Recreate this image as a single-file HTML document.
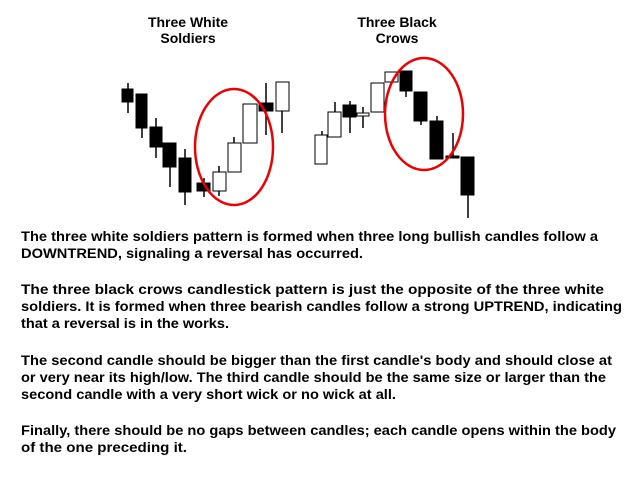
<!DOCTYPE html>
<html><head><meta charset="utf-8"><style>
html,body{margin:0;padding:0;background:#fff;width:640px;height:480px;overflow:hidden}
svg{display:block}
text{font-family:"Liberation Sans",Arial,sans-serif;font-weight:bold;fill:#000}
</style></head><body>
<svg width="640" height="480" viewBox="0 0 640 480">
<g font-size="14" text-anchor="middle">
<text x="188" y="27">Three White</text>
<text x="188" y="43">Soldiers</text>
<text x="397" y="27">Three Black</text>
<text x="397" y="43">Crows</text>
</g>
<g stroke="#000" stroke-width="1.5">
<line x1="128" y1="83" x2="128" y2="113"/>
<line x1="142" y1="94" x2="142" y2="138"/>
<line x1="156" y1="118" x2="156" y2="158"/>
<line x1="170" y1="143" x2="170" y2="187"/>
<line x1="185" y1="149" x2="185" y2="205"/>
<line x1="204" y1="178" x2="204" y2="197"/>
<line x1="219" y1="166" x2="219" y2="196"/>
<line x1="234" y1="137" x2="234" y2="172"/>
<line x1="266" y1="83" x2="266" y2="135"/>
<line x1="282" y1="100" x2="282" y2="133"/>
<line x1="322" y1="131" x2="322" y2="140"/>
<line x1="335" y1="102" x2="335" y2="115"/>
<line x1="350" y1="101" x2="350" y2="133"/>
<line x1="363" y1="107" x2="363" y2="128"/>
<line x1="406" y1="85" x2="406" y2="97"/>
<line x1="421" y1="110" x2="421" y2="125"/>
<line x1="437" y1="116" x2="437" y2="125"/>
<line x1="453" y1="133" x2="453" y2="158"/>
<line x1="468" y1="180" x2="468" y2="218"/>
</g>
<g stroke="#000" stroke-width="1">
<rect x="122" y="89" width="11" height="13" fill="#000"/>
<rect x="136" y="94" width="11" height="34" fill="#000"/>
<rect x="150" y="127" width="12" height="20" fill="#000"/>
<rect x="163" y="143" width="13" height="24" fill="#000"/>
<rect x="179" y="158" width="12" height="34" fill="#000"/>
<rect x="197" y="183" width="13" height="8" fill="#000"/>
<rect x="213" y="172" width="13" height="19" fill="#fff"/>
<rect x="228" y="143" width="13" height="29" fill="#fff"/>
<rect x="243" y="104" width="14" height="39" fill="#fff"/>
<rect x="259" y="103" width="14" height="8" fill="#000"/>
<rect x="276" y="82" width="13" height="29" fill="#fff"/>
<rect x="315" y="135" width="12" height="29" fill="#fff"/>
<rect x="328" y="112" width="13" height="25" fill="#fff"/>
<rect x="343" y="105" width="13" height="12" fill="#000"/>
<rect x="357" y="113" width="12" height="3" fill="#fff"/>
<rect x="371" y="83" width="13" height="29" fill="#fff"/>
<rect x="385" y="72" width="13" height="10" fill="#fff"/>
<rect x="400" y="71" width="12" height="20" fill="#000"/>
<rect x="414" y="92" width="13" height="29" fill="#000"/>
<rect x="430" y="121" width="13" height="38" fill="#000"/>
<rect x="446" y="156" width="13" height="2" fill="#000"/>
<rect x="461" y="157" width="13" height="38" fill="#000"/>
</g>
<ellipse cx="234" cy="147" rx="39" ry="58" fill="none" stroke="#e00" stroke-width="2.5"/>
<ellipse cx="424" cy="114" rx="39" ry="56" fill="none" stroke="#e00" stroke-width="2.5"/>
<g font-size="13.5">
<text x="21" y="241" textLength="577" lengthAdjust="spacingAndGlyphs">The three white soldiers pattern is formed when three long bullish candles follow a</text>
<text x="21" y="258" textLength="342" lengthAdjust="spacingAndGlyphs">DOWNTREND, signaling a reversal has occurred.</text>
<text x="21" y="294" textLength="583" lengthAdjust="spacingAndGlyphs">The three black crows candlestick pattern is just the opposite of the three white</text>
<text x="21" y="311" textLength="601" lengthAdjust="spacingAndGlyphs">soldiers. It is formed when three bearish candles follow a strong UPTREND, indicating</text>
<text x="21" y="328" textLength="208" lengthAdjust="spacingAndGlyphs">that a reversal is in the works.</text>
<text x="21" y="365" textLength="591" lengthAdjust="spacingAndGlyphs">The second candle should be bigger than the first candle's body and should close at</text>
<text x="21" y="382" textLength="585" lengthAdjust="spacingAndGlyphs">or very near its high/low. The third candle should be the same size or larger than the</text>
<text x="21" y="399" textLength="375" lengthAdjust="spacingAndGlyphs">second candle with a very short wick or no wick at all.</text>
<text x="21" y="435" textLength="595" lengthAdjust="spacingAndGlyphs">Finally, there should be no gaps between candles; each candle opens within the body</text>
<text x="21" y="452" textLength="166" lengthAdjust="spacingAndGlyphs">of the one preceding it.</text>
</g>
</svg>
</body></html>
